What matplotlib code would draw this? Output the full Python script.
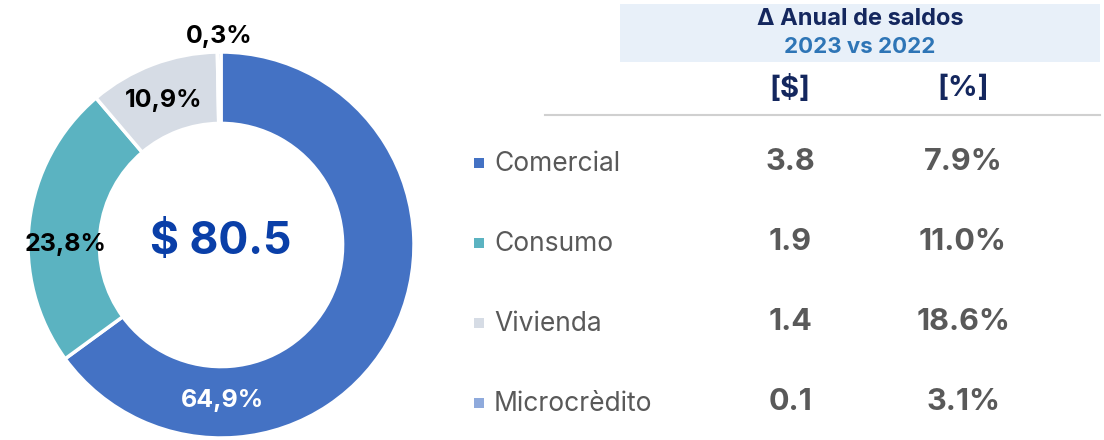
import matplotlib.pyplot as plt
from matplotlib.patches import Rectangle

plt.rcParams['font.family'] = ['Inter', 'DejaVu Sans']

# donut data
categorias = ['Comercial', 'Consumo', 'Vivienda', 'Microcrèdito']
participacion = [64.9, 23.8, 10.9, 0.3]
colores = ['#4472C4', '#5BB3C1', '#D6DCE5', '#8FAADC']
total = '$ 80.5'

# table data
var_pesos = ['3.8', '1.9', '1.4', '0.1']
var_pct = ['7.9%', '11.0%', '18.6%', '3.1%']

W, H = 1104, 440
fig = plt.figure(figsize=(W / 100, H / 100), dpi=100)

# donut, centre ~ (221, 245) px, radius ~193 px
cx, cy, r = 221, 245, 193
ax = fig.add_axes([(cx - r) / W, (H - cy - r) / H, 2 * r / W, 2 * r / H])
wedges, _ = ax.pie(participacion, colors=colores, startangle=90, counterclock=False,
                   radius=1, wedgeprops=dict(width=0.37, edgecolor='white', linewidth=2.5))
ax.set_xlim(-1, 1)
ax.set_ylim(-1, 1)
ax.axis('off')

# overlay in pixel coords for text
t = fig.add_axes([0, 0, 1, 1], zorder=5)
t.set_xlim(0, W)
t.set_ylim(H, 0)
t.axis('off')
t.patch.set_alpha(0)

lbl_pos = [(222, 401, 'white'), (66, 244, 'black'), (164, 100, 'black'), (219, 36, 'black')]
for v, (x, y, c) in zip(participacion, lbl_pos):
    t.text(x, y, f'{v:.1f}%'.replace('.', ','), ha='center', va='center',
           fontsize=18, fontweight='bold', color=c)

t.text(cx, 242, total, ha='center', va='center', fontsize=32, fontweight='bold', color='#0A3FA8')

# header
t.add_patch(Rectangle((620, 4), 480, 58, facecolor='#E8F0F9', edgecolor='none'))
t.text(860, 19, 'Δ Anual de saldos', ha='center', va='center', fontsize=17,
       fontweight='bold', color='#14275E')
t.text(860, 47, '2023 vs 2022', ha='center', va='center', fontsize=16,
       fontweight='bold', color='#2E75B6')
t.text(790, 89, '[$]', ha='center', va='center', fontsize=21, fontweight='bold', color='#14275E')
t.text(963, 89, '[%]', ha='center', va='center', fontsize=21, fontweight='bold', color='#14275E')
t.plot([545, 1100], [115, 115], color='#D0D0D0', lw=1.5)

# rows
ys = [163, 243, 323, 403]
for y, cat, col, vp, vc in zip(ys, categorias, colores, var_pesos, var_pct):
    t.add_patch(Rectangle((474, y - 5), 10, 10, facecolor=col, edgecolor='none'))
    t.text(494, y + 1, cat, ha='left', va='center', fontsize=19, color='#595959')
    t.text(790, y - 1, vp, ha='center', va='center', fontsize=22, fontweight='bold', color='#595959')
    t.text(963, y - 1, vc, ha='center', va='center', fontsize=22, fontweight='bold', color='#595959')

fig.savefig('out.png', dpi=100)
